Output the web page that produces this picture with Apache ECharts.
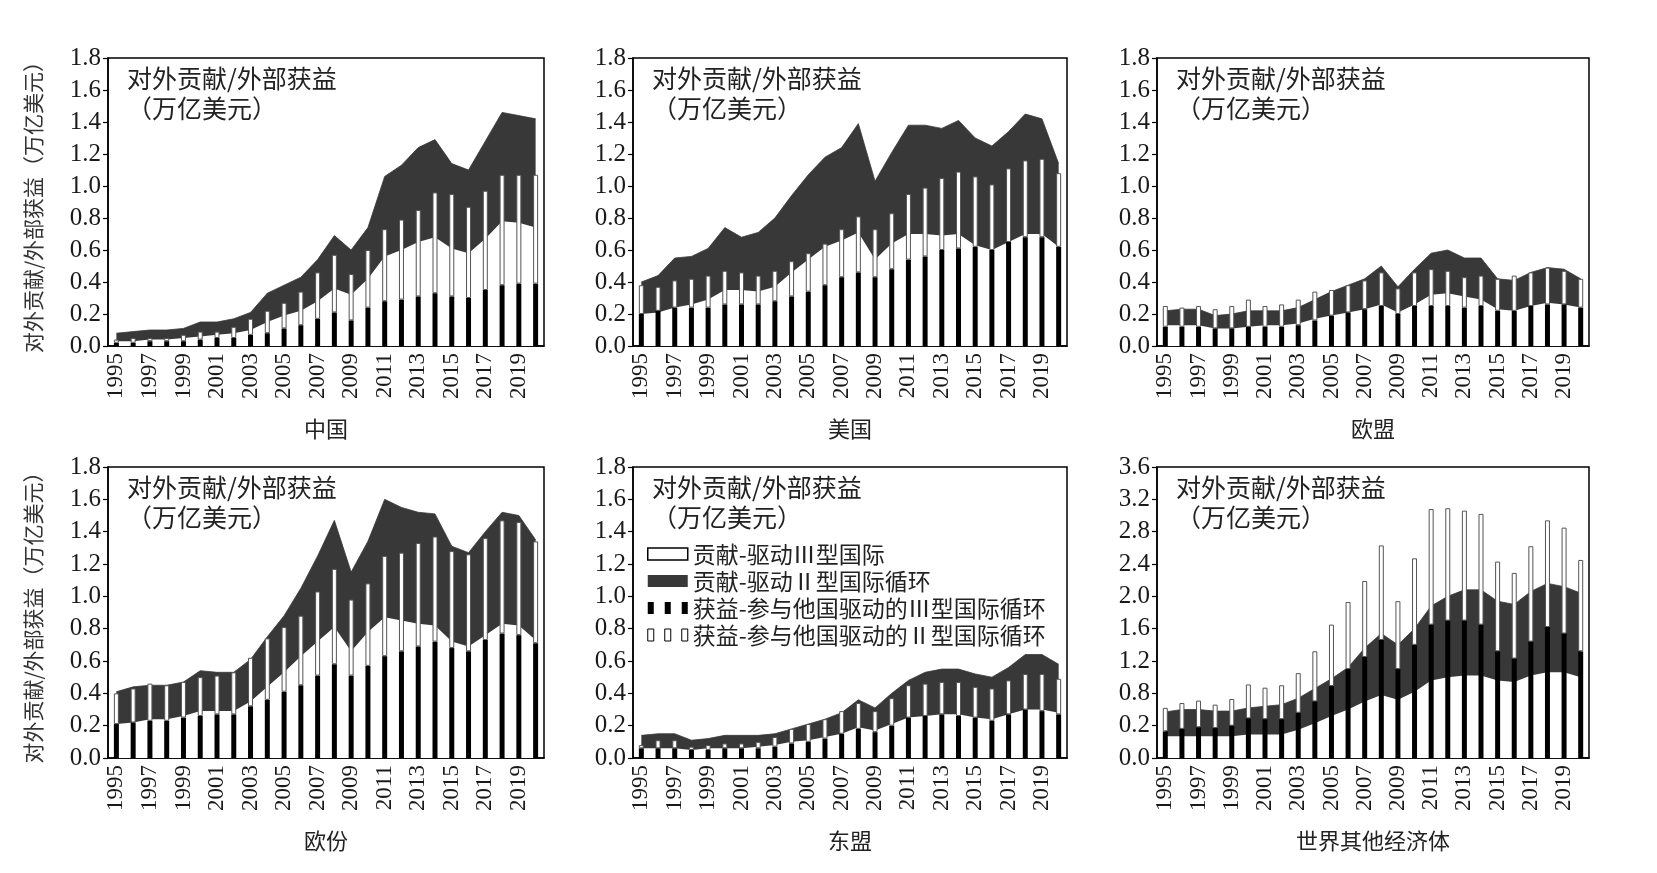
<!DOCTYPE html>
<html>
<head>
<meta charset="utf-8">
<script src="https://cdn.jsdelivr.net/npm/echarts@6/dist/echarts.min.js"></script>
<style>
html, body { margin: 0; padding: 0; background: #fff; }
#chart { width: 1657px; height: 873px; }
</style>
</head>
<body>
<div id="chart"></div>
<script>
// years on the x axis
const years = ['1995', '1996', '1997', '1998', '1999', '2000', '2001', '2002', '2003',
    '2004', '2005', '2006', '2007', '2008', '2009', '2010', '2011', '2012', '2013',
    '2014', '2015', '2016', '2017', '2018', '2019', '2020'];

const panelNames = ['中国', '美国', '欧盟', '欧份', '东盟', '世界其他经济体'];
const seriesNames = ['贡献-驱动Ⅲ型国际', '贡献-驱动Ⅱ型国际循环',
    '获益-参与他国驱动的Ⅲ型国际循环', '获益-参与他国驱动的Ⅱ型国际循环'];

// y tick labels of the last panel (as printed)
const rowTickLabels = ['0.0', '0.2', '0.8', '1.2', '1.6', '2.0', '2.4', '2.8', '3.2', '3.6'];

// 中国
const chinaContribIII = [0.03, 0.03, 0.04, 0.04, 0.05, 0.06, 0.07, 0.08, 0.10, 0.15, 0.19, 0.22, 0.28, 0.36, 0.32, 0.42, 0.56, 0.60, 0.65, 0.68, 0.61, 0.58, 0.67, 0.78, 0.77, 0.74];
const chinaContribII = [0.05, 0.06, 0.06, 0.06, 0.06, 0.09, 0.08, 0.09, 0.11, 0.18, 0.19, 0.21, 0.26, 0.33, 0.28, 0.32, 0.50, 0.53, 0.59, 0.61, 0.53, 0.52, 0.61, 0.68, 0.67, 0.68];
const chinaGainIII = [0.02, 0.02, 0.03, 0.03, 0.03, 0.04, 0.05, 0.05, 0.07, 0.08, 0.11, 0.13, 0.17, 0.21, 0.16, 0.24, 0.28, 0.29, 0.31, 0.33, 0.31, 0.30, 0.35, 0.38, 0.39, 0.39];
const chinaGainII = [0.02, 0.03, 0.02, 0.02, 0.04, 0.05, 0.04, 0.07, 0.10, 0.14, 0.16, 0.21, 0.29, 0.36, 0.29, 0.36, 0.45, 0.50, 0.54, 0.63, 0.64, 0.57, 0.62, 0.69, 0.68, 0.68];

// 美国
const usContribIII = [0.20, 0.21, 0.24, 0.26, 0.29, 0.35, 0.35, 0.34, 0.37, 0.46, 0.54, 0.62, 0.66, 0.71, 0.54, 0.64, 0.70, 0.70, 0.69, 0.70, 0.63, 0.60, 0.65, 0.70, 0.70, 0.62];
const usContribII = [0.20, 0.23, 0.31, 0.30, 0.32, 0.39, 0.33, 0.37, 0.43, 0.48, 0.53, 0.56, 0.58, 0.68, 0.49, 0.57, 0.68, 0.68, 0.67, 0.71, 0.67, 0.65, 0.69, 0.75, 0.72, 0.52];
const usGainIII = [0.20, 0.22, 0.24, 0.24, 0.24, 0.26, 0.26, 0.26, 0.28, 0.31, 0.34, 0.38, 0.43, 0.46, 0.43, 0.48, 0.54, 0.56, 0.60, 0.61, 0.62, 0.60, 0.65, 0.68, 0.68, 0.62];
const usGainII = [0.18, 0.15, 0.17, 0.18, 0.20, 0.21, 0.20, 0.18, 0.19, 0.22, 0.24, 0.26, 0.30, 0.35, 0.30, 0.35, 0.41, 0.43, 0.45, 0.48, 0.44, 0.41, 0.46, 0.48, 0.49, 0.46];

// 欧盟
const euContribIII = [0.13, 0.13, 0.13, 0.11, 0.11, 0.12, 0.13, 0.13, 0.14, 0.17, 0.19, 0.21, 0.23, 0.26, 0.21, 0.26, 0.32, 0.33, 0.31, 0.29, 0.23, 0.22, 0.25, 0.27, 0.26, 0.24];
const euContribII = [0.09, 0.10, 0.10, 0.08, 0.09, 0.10, 0.09, 0.09, 0.10, 0.12, 0.15, 0.17, 0.19, 0.24, 0.16, 0.22, 0.26, 0.27, 0.24, 0.26, 0.19, 0.19, 0.21, 0.22, 0.22, 0.18];
const euGainIII = [0.12, 0.12, 0.12, 0.11, 0.11, 0.12, 0.12, 0.12, 0.13, 0.16, 0.19, 0.21, 0.23, 0.25, 0.20, 0.25, 0.25, 0.25, 0.24, 0.25, 0.22, 0.22, 0.25, 0.26, 0.26, 0.24];
const euGainII = [0.13, 0.12, 0.13, 0.12, 0.14, 0.17, 0.13, 0.14, 0.16, 0.18, 0.16, 0.17, 0.18, 0.21, 0.16, 0.21, 0.23, 0.22, 0.19, 0.19, 0.20, 0.22, 0.21, 0.23, 0.21, 0.18];

// 欧份
const europeContribIII = [0.21, 0.22, 0.24, 0.24, 0.26, 0.29, 0.29, 0.29, 0.35, 0.44, 0.53, 0.63, 0.72, 0.81, 0.66, 0.78, 0.87, 0.85, 0.83, 0.82, 0.72, 0.69, 0.76, 0.83, 0.82, 0.73];
const europeContribII = [0.20, 0.22, 0.21, 0.21, 0.21, 0.25, 0.24, 0.24, 0.26, 0.31, 0.35, 0.42, 0.53, 0.66, 0.49, 0.56, 0.73, 0.70, 0.69, 0.69, 0.59, 0.58, 0.64, 0.69, 0.68, 0.62];
const europeGainIII = [0.21, 0.22, 0.23, 0.23, 0.25, 0.26, 0.27, 0.27, 0.32, 0.36, 0.41, 0.45, 0.51, 0.58, 0.51, 0.57, 0.63, 0.66, 0.69, 0.72, 0.68, 0.66, 0.73, 0.77, 0.76, 0.71];
const europeGainII = [0.19, 0.21, 0.23, 0.22, 0.22, 0.24, 0.24, 0.26, 0.30, 0.38, 0.40, 0.43, 0.52, 0.59, 0.47, 0.51, 0.62, 0.61, 0.64, 0.65, 0.60, 0.60, 0.63, 0.70, 0.70, 0.63];

// 东盟
const aseanContribIII = [0.06, 0.06, 0.06, 0.05, 0.06, 0.06, 0.06, 0.07, 0.08, 0.10, 0.11, 0.13, 0.15, 0.19, 0.17, 0.21, 0.25, 0.26, 0.27, 0.27, 0.25, 0.24, 0.27, 0.30, 0.30, 0.28];
const aseanContribII = [0.08, 0.09, 0.09, 0.06, 0.06, 0.08, 0.08, 0.07, 0.07, 0.08, 0.10, 0.11, 0.13, 0.17, 0.14, 0.19, 0.23, 0.27, 0.28, 0.28, 0.27, 0.26, 0.29, 0.34, 0.34, 0.30];
const aseanGainIII = [0.06, 0.06, 0.06, 0.05, 0.05, 0.06, 0.06, 0.06, 0.07, 0.09, 0.10, 0.12, 0.15, 0.18, 0.16, 0.20, 0.25, 0.26, 0.27, 0.26, 0.25, 0.23, 0.27, 0.30, 0.29, 0.27];
const aseanGainII = [0.02, 0.05, 0.05, 0.02, 0.03, 0.03, 0.03, 0.04, 0.06, 0.09, 0.11, 0.12, 0.14, 0.16, 0.13, 0.17, 0.20, 0.20, 0.20, 0.21, 0.19, 0.20, 0.21, 0.22, 0.23, 0.22];

// 世界其他经济体
const rowContribIII = [0.27, 0.27, 0.27, 0.27, 0.27, 0.29, 0.29, 0.29, 0.35, 0.43, 0.52, 0.60, 0.70, 0.78, 0.72, 0.82, 0.96, 1.00, 1.02, 1.02, 0.96, 0.94, 1.02, 1.06, 1.06, 1.00];
const rowContribII = [0.30, 0.33, 0.33, 0.31, 0.31, 0.33, 0.35, 0.37, 0.39, 0.43, 0.46, 0.52, 0.66, 0.76, 0.68, 0.78, 0.92, 1.00, 1.06, 1.06, 0.98, 0.96, 1.04, 1.10, 1.06, 1.04];
const rowGainIII = [0.33, 0.36, 0.38, 0.37, 0.40, 0.49, 0.48, 0.48, 0.56, 0.70, 0.89, 1.10, 1.25, 1.46, 1.10, 1.40, 1.65, 1.70, 1.70, 1.65, 1.32, 1.23, 1.44, 1.62, 1.54, 1.32];
const rowGainII = [0.29, 0.32, 0.33, 0.29, 0.33, 0.42, 0.39, 0.42, 0.49, 0.62, 0.76, 0.83, 0.94, 1.17, 0.84, 1.07, 1.43, 1.39, 1.36, 1.37, 1.11, 1.06, 1.18, 1.32, 1.31, 1.13];

const panelData = [
    [chinaContribIII, chinaContribII, chinaGainIII, chinaGainII],
    [usContribIII, usContribII, usGainIII, usGainII],
    [euContribIII, euContribII, euGainIII, euGainII],
    [europeContribIII, europeContribII, europeGainIII, europeGainII],
    [aseanContribIII, aseanContribII, aseanGainIII, aseanGainII],
    [rowContribIII, rowContribII, rowGainIII, rowGainII]
];

const colorDark = '#383838';
const serif = '"Liberation Serif", "DejaVu Serif", serif';
const cjk = '"Noto Sans CJK SC", sans-serif';

const colLeft = [108, 633, 1157];
const colWidth = [436, 434, 432];
const rowTop = [58, 467];
const rowHeight = [288, 291];

const grids = [];
const xAxes = [];
const yAxes = [];
const series = [];
const graphics = [];

for (let i = 0; i < 6; i++) {
    const col = i % 3;
    const row = Math.floor(i / 3);
    const isRow = i === 5;

    grids.push({
        left: colLeft[col],
        top: rowTop[row],
        width: colWidth[col],
        height: rowHeight[row],
        show: true,
        borderColor: '#000',
        borderWidth: 1.5,
        backgroundColor: 'transparent'
    });

    xAxes.push({
        type: 'category',
        gridIndex: i,
        data: years,
        boundaryGap: true,
        name: panelNames[i],
        nameLocation: 'middle',
        nameGap: 72,
        nameTextStyle: { fontFamily: cjk, fontSize: 22, color: '#222' },
        axisLine: { lineStyle: { color: '#000', width: 1.5 } },
        axisTick: { inside: true, length: 6, interval: 0, lineStyle: { color: '#000', width: 1.2 } },
        axisLabel: {
            interval: 1,
            rotate: 90,
            margin: 7,
            fontFamily: serif,
            fontSize: 23,
            color: '#1a1a1a'
        },
        splitLine: { show: false }
    });

    yAxes.push({
        type: 'value',
        gridIndex: i,
        min: 0,
        max: isRow ? 3.6 : 1.8,
        interval: isRow ? 0.4 : 0.2,
        name: col === 0 ? '对外贡献/外部获益（万亿美元）' : '',
        nameLocation: 'middle',
        nameRotate: 90,
        nameGap: 64,
        nameTextStyle: { fontFamily: cjk, fontSize: 21, color: '#333' },
        axisLine: { show: true, lineStyle: { color: '#000', width: 1.5 } },
        axisTick: { show: true, inside: false, length: 5, lineStyle: { color: '#000', width: 1.2 } },
        axisLabel: {
            margin: 7,
            fontFamily: serif,
            fontSize: 25,
            color: '#1a1a1a',
            formatter: isRow
                ? function (v) { return rowTickLabels[Math.round(v / 0.4)]; }
                : function (v) { return v.toFixed(1); }
        },
        splitLine: { show: false }
    });

    const d = panelData[i];
    series.push({
        name: seriesNames[0],
        type: 'line',
        xAxisIndex: i,
        yAxisIndex: i,
        stack: 'contrib' + i,
        data: d[0],
        symbol: 'none',
        lineStyle: { width: 0 },
        areaStyle: { color: '#fff', opacity: 1 },
        itemStyle: { color: '#fff' },
        z: 1
    });
    series.push({
        name: seriesNames[1],
        type: 'line',
        xAxisIndex: i,
        yAxisIndex: i,
        stack: 'contrib' + i,
        data: d[1],
        symbol: 'none',
        lineStyle: { width: 0.8, color: colorDark },
        areaStyle: { color: colorDark, opacity: 1 },
        itemStyle: { color: colorDark },
        z: 1
    });
    series.push({
        name: seriesNames[2],
        type: 'bar',
        xAxisIndex: i,
        yAxisIndex: i,
        stack: 'gain' + i,
        data: d[2],
        barWidth: 5,
        itemStyle: { color: '#000' },
        z: 3
    });
    series.push({
        name: seriesNames[3],
        type: 'bar',
        xAxisIndex: i,
        yAxisIndex: i,
        stack: 'gain' + i,
        data: d[3],
        barWidth: 5,
        itemStyle: { color: '#fff', borderColor: '#555', borderWidth: 1 },
        z: 3
    });

    graphics.push({
        type: 'text',
        left: colLeft[col] + 19,
        top: rowTop[row] + 5,
        z: 10,
        style: {
            text: '对外贡献/外部获益\n（万亿美元）',
            font: '25px ' + cjk,
            fill: '#222',
            lineHeight: 30
        }
    });
}

// three small bars, as drawn in the legend of the original figure
const barIcon = 'path://M0,0H6V12H0Z M17,0H23V12H17Z M34,0H40V12H34Z';

const option = {
    animation: false,
    backgroundColor: '#fff',
    grid: grids,
    xAxis: xAxes,
    yAxis: yAxes,
    series: series,
    graphic: graphics,
    legend: {
        orient: 'vertical',
        left: 642,
        top: 537,
        itemWidth: 40,
        itemHeight: 12,
        itemGap: 3,
        selectedMode: false,
        textStyle: { fontFamily: cjk, fontSize: 23, color: '#222', lineHeight: 24 },
        data: [
            { name: seriesNames[0], icon: 'rect', itemStyle: { color: '#fff', borderColor: '#000', borderWidth: 1.5 } },
            { name: seriesNames[1], icon: 'rect', itemStyle: { color: colorDark } },
            { name: seriesNames[2], icon: barIcon, itemStyle: { color: '#000' } },
            { name: seriesNames[3], icon: barIcon, itemStyle: { color: '#fff', borderColor: '#000', borderWidth: 1 } }
        ]
    }
};

const chart = echarts.init(document.getElementById('chart'));
chart.setOption(option);
</script>
</body>
</html>
